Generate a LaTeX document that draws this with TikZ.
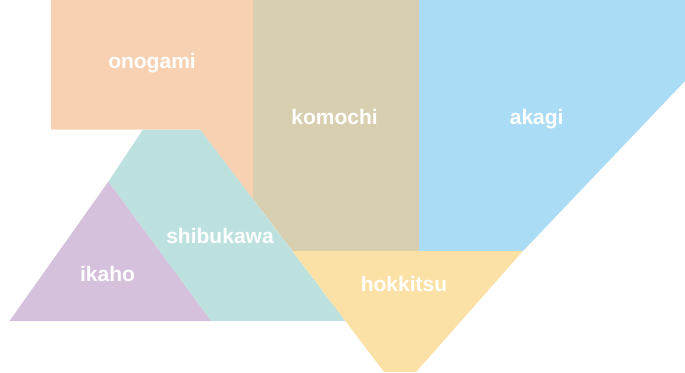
\documentclass[tikz,border=0pt]{standalone}
\usepackage{fontspec}
\setmainfont{Liberation Sans}
\definecolor{cOno}{RGB}{248,209,178}
\definecolor{cKom}{RGB}{216,206,176}
\definecolor{cAka}{RGB}{170,220,245}
\definecolor{cShi}{RGB}{189,225,223}
\definecolor{cIka}{RGB}{214,193,221}
\definecolor{cHok}{RGB}{252,225,166}
\tikzset{lbl/.style={text=white,font=\fontsize{21}{25}\selectfont\bfseries,anchor=base,inner sep=0pt}}
\begin{document}
\begin{tikzpicture}[x=1pt,y=-1pt]
\useasboundingbox (0,0) rectangle (685,372);
\fill[cOno] (51,0) -- (253,0) -- (253,200) -- (200,129.5) -- (51,129.5) -- cycle;
\fill[cKom] (253,0) -- (419,0) -- (419,251) -- (292.5,251) -- (253,199) -- cycle;
\fill[cAka] (419,0) -- (685,0) -- (685,81) -- (523,251) -- (419,251) -- cycle;
\fill[cShi] (143,129.5) -- (200,129.5) -- (345.5,321) -- (211,321) -- (108.3,181.7) -- cycle;
\fill[cIka] (108.3,181.7) -- (211,321) -- (9.5,321) -- cycle;
\fill[cHok] (292.5,251) -- (523,251) -- (416,372) -- (384,372) -- cycle;
\node[lbl] (onogami) at (152,68.3) {onogami};
\node[lbl] (komochi) at (334.5,124) {komochi};
\node[lbl] (akagi) at (536.7,124) {akagi};
\node[lbl] (shibukawa) at (220,243) {shibukawa};
\node[lbl] (ikaho) at (107.5,281.7) {ikaho};
\node[lbl] (hokkitsu) at (404,291.7) {hokkitsu};
\end{tikzpicture}
\end{document}
